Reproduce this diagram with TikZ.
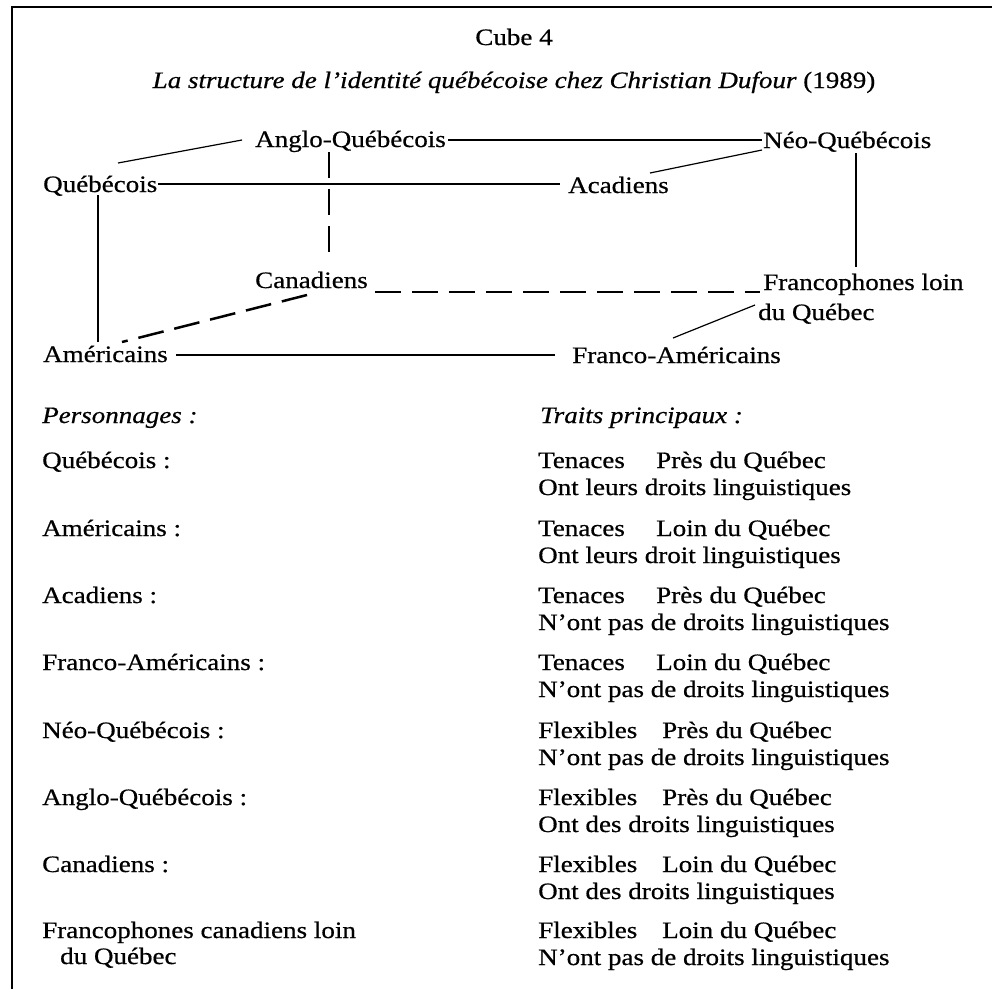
\documentclass[tikz,border=0pt]{standalone}
\usepackage{fontspec}
\setmainfont[FakeStretch=1.15,FakeBold=0.6]{Liberation Serif}
\usetikzlibrary{calc}
\newcommand\fs{\fontsize{23.5}{27}\selectfont}
\begin{document}
\begin{tikzpicture}[x=1pt,y=-1pt,
  lbl/.style={inner sep=0pt, anchor=base west, font=\fs},
  solidline/.style={line width=1.2pt},
  dashline/.style={line width=2.5pt, dash pattern=on 26pt off 11pt},
  frameline/.style={line width=2.4pt}]
\useasboundingbox (0,0) rectangle (992,989);
\draw[frameline] (992,7) -- (12,7) -- (12,989);

% titles
\node[lbl, anchor=base] (title) at (514,45) {Cube 4};
\node[lbl, anchor=base] (subtitle) at (514,88) {\textit{La structure de l’identité québécoise chez Christian Dufour} (1989)};

% cube nodes
\node[lbl] (anglo) at (255,147) {Anglo-Québécois};
\node[lbl] (neo) at (763,148) {Néo-Québécois};
\node[lbl] (queb) at (43,192) {Québécois};
\node[lbl] (acad) at (568,193) {Acadiens};
\node[lbl] (canad) at (255,288) {Canadiens};
\node[lbl] (fran1) at (763,290) {Francophones loin};
\node[lbl] (fran2) at (758,320) {du Québec};
\node[lbl] (amer) at (43,362) {Américains};
\node[lbl] (franam) at (572,363) {Franco-Américains};

% solid edges
\draw[solidline] ($(queb.base west)+(75,-29)$) -- ($(anglo.base west)+(-13,-7)$);
\draw[solidline] ($(anglo.base east)+(2,-7)$) -- ($(neo.base west)+(-1,-8)$);
\draw[solidline] ($(queb.base east)+(1,-8)$) -- ($(acad.base west)+(-8,-9)$);
\draw[solidline] ($(acad.base west)+(82,-20)$) -- ($(neo.base west)+(-1,2)$);
\draw[solidline] ($(queb.base west)+(55,3)$) -- ($(amer.base west)+(55,-20)$);
\draw[solidline] ($(neo.base west)+(93,5)$) -- ($(fran1.base west)+(93,-23)$);
\draw[solidline] ($(amer.base east)+(8,-7)$) -- ($(franam.base west)+(-17,-8)$);
\draw[solidline] ($(franam.base west)+(101,-25)$) -- ($(fran2.base west)+(-3,-15)$);

% dashed (hidden) edges
\draw[dashline] ($(anglo.base west)+(74,5)$) -- ($(canad.base west)+(74,-28)$);
\draw[dashline] ($(canad.base east)+(7,4)$) -- ($(fran1.base west)+(-3,2)$);
\draw[dashline] ($(canad.base west)+(52,7)$) -- ($(amer.base west)+(79,-20)$);

% list
\node[lbl] (hpers) at (42,423) {\textit{Personnages :}};
\node[lbl] (htraits) at (540,423) {\textit{Traits principaux :}};
\foreach \i/\y/\nm/\tr/\lx/\loc/\dr in {
 1/468/Québécois :/Tenaces/656/Près du Québec/Ont leurs droits linguistiques,
 2/536/Américains :/Tenaces/656/Loin du Québec/Ont leurs droit linguistiques,
 3/603/Acadiens :/Tenaces/656/Près du Québec/N’ont pas de droits linguistiques,
 4/670/Franco-Américains :/Tenaces/656/Loin du Québec/N’ont pas de droits linguistiques,
 5/738/Néo-Québécois :/Flexibles/662/Près du Québec/N’ont pas de droits linguistiques,
 6/805/Anglo-Québécois :/Flexibles/662/Près du Québec/Ont des droits linguistiques,
 7/872/Canadiens :/Flexibles/662/Loin du Québec/Ont des droits linguistiques,
 8/938/Francophones canadiens loin/Flexibles/662/Loin du Québec/N’ont pas de droits linguistiques}
{
 \node[lbl] (name\i) at (42,\y) {\nm};
 \node[lbl] (trait\i) at (538,\y) {\tr};
 \node[lbl] (loc\i) at (\lx,\y) {\loc};
 \node[lbl] (droit\i) at (538,\y+27) {\dr};
}
\node[lbl] (name8b) at (60,964) {du Québec};
\end{tikzpicture}
\end{document}
